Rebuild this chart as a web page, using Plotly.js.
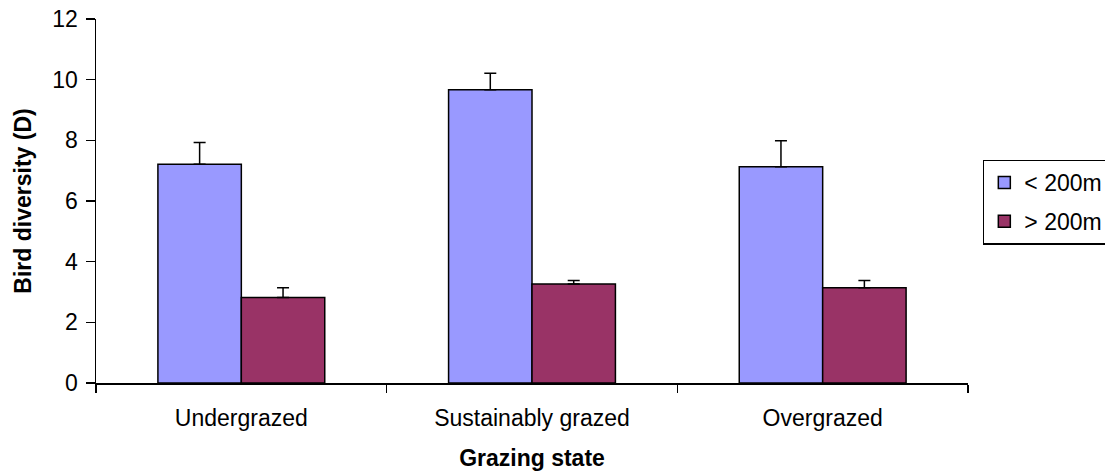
<!DOCTYPE html>
<html>
<head>
<meta charset="utf-8">
<script src="https://cdn.plot.ly/plotly-3.0.1.min.js"></script>
<style>html,body{margin:0;padding:0;background:#fff;}#chart{width:1105px;height:476px;}</style>
</head>
<body>
<div id="chart"></div>
<script>
const categories = ["Undergrazed", "Sustainably grazed", "Overgrazed"];
const seriesNames = ["< 200m", "> 200m"];
const near = [7.21, 9.67, 7.13];
const nearErr = [0.72, 0.54, 0.86];
const far = [2.82, 3.26, 3.14];
const farErr = [0.32, 0.12, 0.24];
const yTicks = [0, 2, 4, 6, 8, 10, 12];

const font = "Liberation Sans, Arial, sans-serif";
function mk(name, y, err, color, grp) {
  return {
    type: "bar", name: name, x: categories, y: y, legendgroup: grp,
    marker: {color: color, line: {color: "#000", width: 1.5}},
    error_y: {type: "data", array: err, arrayminus: err.map(() => 0), symmetric: false,
              color: "#000", thickness: 1.5, width: 6}
  };
}
const data = [mk(seriesNames[0], near, nearErr, "#9999ff", "a"),
              mk(seriesNames[1], far, farErr, "#993366", "b")];
const layout = {
  width: 1105, height: 476,
  margin: {l: 96, r: 137, t: 19, b: 93, autoexpand: false},
  paper_bgcolor: "#fff", plot_bgcolor: "#fff",
  font: {family: font, size: 23, color: "#000"},
  barmode: "group", bargap: 0.426, bargroupgap: 0,
  showlegend: true,
  legend: {x: 1.017, xanchor: "left", y: 0.614, yanchor: "top",
           bordercolor: "#000", borderwidth: 1.5, bgcolor: "#fff",
           font: {family: font, size: 23}, traceorder: "grouped", tracegroupgap: 6},
  xaxis: {
    type: "category", showline: true, linecolor: "#000", linewidth: 1.5,
    ticks: "outside", tickson: "boundaries", ticklen: 8, tickcolor: "#000", tickwidth: 1.5,
    ticklabelstandoff: 14,
    tickfont: {family: font, size: 23}, showgrid: false, zeroline: false,
    title: {text: "<b>Grazing state</b>", font: {family: font, size: 23}, standoff: 20}
  },
  yaxis: {
    range: [0, 12], tickvals: yTicks, ticktext: yTicks.map(String),
    showline: true, linecolor: "#000", linewidth: 1.5, showgrid: false, zeroline: false,
    ticks: "outside", ticklen: 9, tickcolor: "#000", tickwidth: 1.5,
    ticklabelstandoff: 3,
    tickfont: {family: font, size: 23},
    title: {text: "<b>Bird diversity (D)</b>", font: {family: font, size: 23}, standoff: 14}
  }
};
Plotly.newPlot("chart", data, layout, {displayModeBar: false, staticPlot: true});
</script>
</body>
</html>
